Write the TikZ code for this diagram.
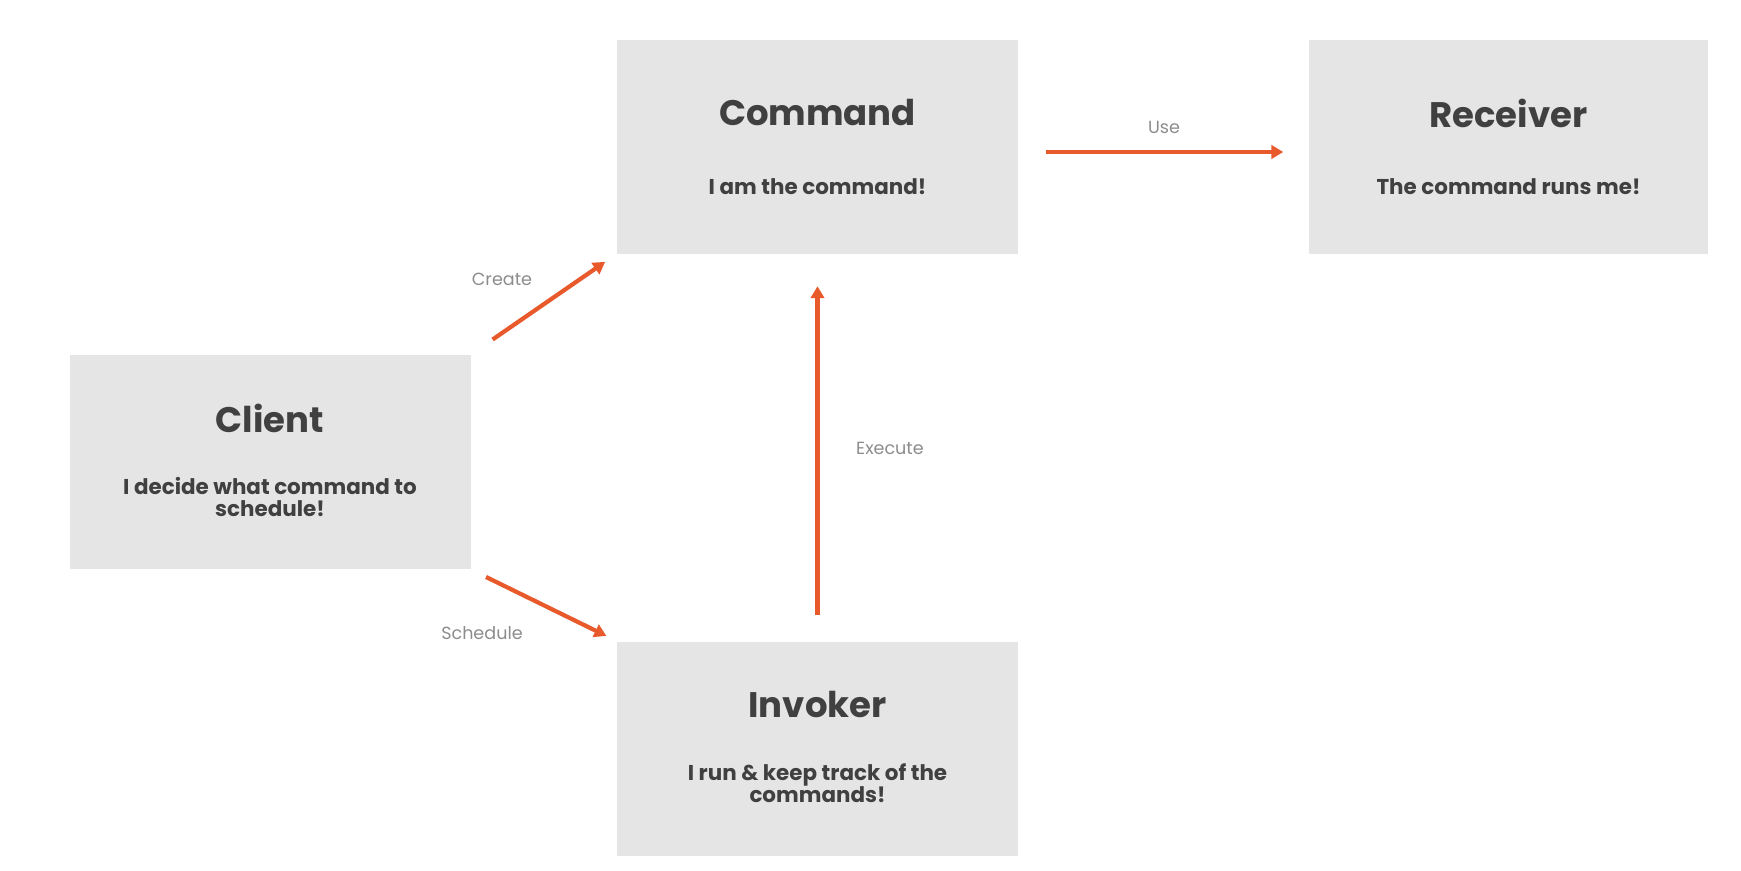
\documentclass[tikz,border=0pt]{standalone}
\usepackage{fontspec}
\setmainfont{Poppins}
\usetikzlibrary{arrows.meta,positioning}
\definecolor{boxgray}{HTML}{E5E5E5}
\definecolor{inkgray}{HTML}{404040}
\definecolor{lblgray}{HTML}{8C8C8C}
\definecolor{arrowred}{HTML}{E85A2C}
\begin{document}
\begin{tikzpicture}[x=0.1mm,y=-0.1mm,
    box/.style={fill=boxgray,draw=none,minimum width=40.1mm,minimum height=21.4mm,inner sep=0pt},
    title/.style={text=inkgray,font=\fontsize{10.1}{12}\selectfont\bfseries},
    sub/.style={text=inkgray,font=\fontsize{6.1}{6.3}\selectfont\bfseries,align=center},
    lbl/.style={text=lblgray,font=\fontsize{5}{6}\selectfont},
    link/.style={draw=arrowred,line width=1.2pt,-{Triangle[length=3.4pt,width=3.8pt]}}]
        \useasboundingbox (0,0) rectangle (1741,871);

          % the four boxes
          \node[box] (command) at (817.5,146.5) {};
          \node[box,minimum width=39.9mm] (receiver) at (1508.5,146.5) {};
          \node[box] (client) at (270,462) {};
          \node[box] (invoker) at (817.5,748.5) {};

          \node[title] at ([yshift=3.35mm]command.center) {Command};
          \node[sub] at ([yshift=-4.05mm]command.center) {I am the command!};
          \node[title] at ([yshift=3.35mm]receiver.center) {Receiver};
          \node[sub] at ([yshift=-4.05mm]receiver.center) {The command runs me!};
          \node[title] at ([yshift=4.4mm]client.center) {Client};
          \node[sub] at ([yshift=-3.5mm]client.center) {I decide what command to\\schedule!};
          \node[title] at ([yshift=4.35mm]invoker.center) {Invoker};
          \node[sub] at ([yshift=-3.45mm]invoker.center) {I run \& keep track of the\\commands!};

          % connectors
          \draw[link,shorten <=2.6mm,shorten >=1.35mm] (client.north east) -- (command.south west);
          \draw[link,shorten <=1.65mm,shorten >=1.1mm] (client.south east) -- (invoker.north west);
          \draw[link,shorten <=2.6mm,shorten >=3.2mm] (invoker.north) -- (command.south);
          \draw[link,shorten <=2.7mm,shorten >=2.5mm] ([yshift=-0.55mm]command.east) -- ([yshift=-0.55mm]receiver.west);

          \node[lbl] at (502,279) {Create};
          \node[lbl] at (482,633) {Schedule};
          \node[lbl] at (890,448) {Execute};
          \node[lbl] at (1164,127) {Use};
        \end{tikzpicture}
\end{document}
